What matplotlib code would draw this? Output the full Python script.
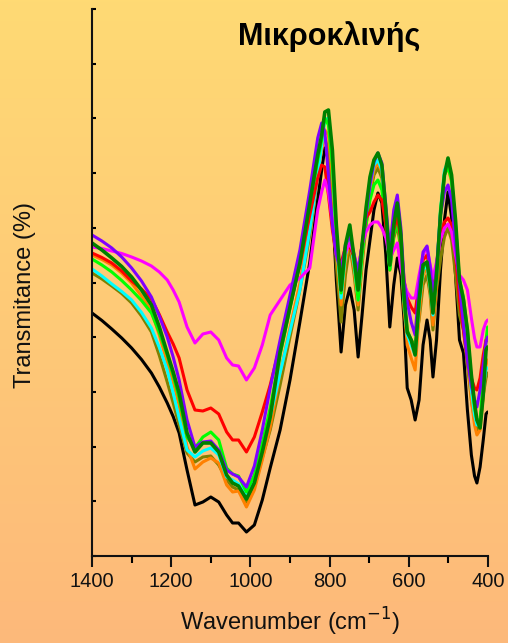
import numpy as np
import matplotlib
matplotlib.use("Agg")
import matplotlib.pyplot as plt
from matplotlib.colors import LinearSegmentedColormap
from matplotlib.ticker import FixedLocator

# Wavenumber sampling (cm^-1)
wavenumber = [1400, 1375, 1350, 1325, 1300, 1275, 1250, 1230, 1210, 1195, 1180, 1160, 1140,
              1120, 1100, 1080, 1060, 1045, 1030,
              1010, 990, 970, 950, 925, 900, 875, 850, 830,
              820, 812, 803, 793, 783, 771, 760, 749, 738, 728,
              718, 708, 698, 688, 678, 668, 658, 648, 638, 629,
              620, 612, 604, 594, 584, 574, 564, 554, 546, 539,
              530, 520, 510, 501, 492, 482, 472, 462, 452, 442,
              434, 428, 420, 412, 405, 401]

# Transmittance spectra (%)
t_black = [48.6, 47.1, 45.4, 43.6, 41.6, 39.3, 36.6, 33.8, 30.6, 27.9, 24.6, 17.2, 10.2,
           10.8, 11.8, 10.8, 8.2, 6.6, 6.6,
           4.8, 6.2, 11.2, 17.6, 25.2, 35.2, 46.8, 58.8, 71.2,
           77.2, 81.6, 79.2, 70.2, 55.2, 40.8, 50.2, 53.6, 49.2, 39.8,
           48.2, 57.2, 63.2, 69.2, 72.6, 70.6, 60.2, 45.8, 54.2, 59.6,
           56.2, 47.2, 33.6, 31.2, 27.2, 31.2, 42.2, 47.2, 43.2, 35.8,
           43.2, 57.2, 67.2, 72.8, 67.8, 56.2, 43.2, 40.6, 29.2, 20.2,
           16.0, 14.6, 17.8, 23.2, 28.4, 28.8]
t_purple = [64.2, 63.0, 61.6, 59.8, 57.6, 55.0, 51.8, 48.0, 43.8, 39.8, 35.2, 27.2, 21.8,
            22.8, 23.0, 21.2, 17.2, 16.4, 15.8,
            13.8, 18.0, 25.2, 33.6, 43.2, 52.2, 61.2, 73.2, 83.6,
            86.6, 84.8, 76.2, 66.2, 60.2, 56.8, 62.2, 64.2, 60.2, 56.8,
            62.2, 68.2, 74.2, 78.8, 80.6, 78.6, 70.2, 61.2, 69.2, 72.2,
            65.6, 55.2, 50.8, 46.8, 44.2, 54.2, 60.8, 62.0, 57.8, 51.8,
            57.6, 68.2, 72.8, 74.2, 71.2, 62.2, 54.2, 46.2, 39.2, 34.0,
            31.2, 29.8, 33.2, 38.2, 42.8, 43.8]
t_darkgreen = [62.6, 61.2, 59.6, 57.9, 55.8, 53.2, 50.2, 45.8, 40.6, 36.8, 32.6, 24.6, 20.8,
               22.6, 22.6, 20.8, 16.2, 14.6, 14.0,
               11.4, 14.6, 20.8, 27.8, 40.8, 49.8, 58.6, 70.6, 80.2,
               84.2, 88.8, 89.2, 81.2, 66.2, 53.2, 62.2, 66.2, 59.6, 53.2,
               62.2, 69.6, 75.8, 79.2, 80.6, 78.2, 69.2, 58.2, 66.2, 70.6,
               64.2, 52.2, 44.8, 43.2, 40.2, 51.2, 58.2, 58.8, 54.6, 48.6,
               56.2, 68.2, 76.2, 79.6, 76.2, 67.2, 55.2, 51.2, 45.2, 36.2,
               30.6, 27.2, 25.6, 32.2, 41.2, 41.8]
t_lime = [59.4, 58.2, 56.8, 55.1, 53.2, 51.1, 48.6, 44.7, 40.2, 36.1, 31.6, 23.8, 21.6,
          23.8, 24.8, 23.2, 17.6, 16.4, 16.0,
          12.8, 16.2, 22.6, 29.6, 40.2, 49.6, 58.8, 70.2, 79.2,
          83.2, 87.6, 86.2, 78.2, 64.2, 52.6, 61.2, 64.8, 58.8, 51.2,
          60.2, 66.2, 71.2, 74.2, 75.2, 73.2, 66.2, 57.2, 64.2, 66.8,
          62.2, 51.2, 45.2, 43.2, 40.8, 51.2, 57.6, 58.8, 54.2, 48.8,
          56.2, 69.2, 76.2, 77.8, 75.2, 66.2, 55.2, 51.8, 45.2, 35.2,
          29.6, 27.2, 27.2, 35.2, 43.2, 45.8]
t_cyan = [57.4, 56.0, 54.4, 52.9, 51.2, 48.7, 45.6, 41.7, 37.2, 32.6, 27.6, 21.2, 19.8,
          21.0, 21.6, 20.2, 15.8, 15.2, 14.4,
          12.2, 15.6, 21.2, 27.8, 36.6, 45.0, 53.2, 65.2, 76.2,
          82.2, 87.2, 87.6, 79.2, 63.2, 51.6, 60.2, 63.6, 58.2, 51.2,
          60.2, 68.2, 74.2, 78.2, 79.2, 77.2, 68.2, 57.6, 65.6, 69.2,
          63.2, 51.2, 44.2, 42.2, 40.2, 50.2, 57.2, 58.2, 53.6, 48.2,
          56.2, 69.2, 77.2, 78.8, 75.6, 66.2, 54.2, 50.2, 42.2, 33.2,
          28.2, 26.2, 26.2, 33.2, 37.6, 37.6]
t_orange = [60.2, 59.3, 58.2, 56.6, 54.6, 52.0, 49.0, 44.2, 38.8, 34.8, 30.2, 21.8, 17.4,
            18.8, 19.6, 18.6, 14.2, 12.8, 13.0,
            9.8, 13.2, 19.2, 25.8, 36.6, 45.6, 54.6, 66.2, 76.8,
            81.2, 85.2, 84.2, 76.2, 61.2, 50.2, 58.8, 63.2, 57.2, 50.2,
            59.2, 67.2, 73.2, 77.2, 78.6, 76.8, 68.8, 58.8, 66.2, 70.2,
            63.2, 50.2, 42.2, 39.6, 37.2, 48.2, 56.2, 57.6, 53.2, 46.2,
            54.2, 68.2, 76.2, 77.8, 74.8, 65.2, 53.2, 48.2, 40.2, 31.2,
            26.2, 24.2, 25.2, 32.2, 38.2, 39.2]
t_olive = [56.6, 55.4, 54.0, 52.5, 50.6, 48.0, 44.8, 40.1, 34.8, 30.6, 26.2, 20.6, 18.8,
           19.8, 20.0, 18.2, 15.2, 13.8, 13.2,
           10.8, 13.8, 19.6, 25.2, 34.2, 43.8, 53.2, 64.2, 76.2,
           82.8, 83.6, 81.2, 72.2, 58.2, 46.8, 56.2, 62.2, 56.2, 49.2,
           58.2, 66.2, 72.2, 76.2, 77.6, 75.6, 67.2, 57.2, 63.6, 66.2,
           61.2, 49.2, 44.2, 43.2, 42.2, 47.2, 54.2, 56.2, 52.2, 45.2,
           53.2, 59.2, 63.8, 65.6, 63.2, 56.2, 48.2, 45.2, 38.2, 31.2,
           27.2, 25.2, 26.2, 32.2, 35.6, 36.6]
t_red = [60.6, 59.7, 58.6, 57.0, 55.0, 53.4, 51.4, 48.3, 44.8, 42.4, 39.6, 33.2, 29.2,
         29.0, 29.6, 28.4, 24.8, 23.2, 23.2,
         20.8, 23.8, 28.8, 34.2, 42.2, 50.2, 58.2, 68.2, 75.6,
         78.2, 77.8, 72.2, 65.2, 60.2, 58.6, 61.8, 61.8, 59.8, 56.8,
         62.2, 67.6, 68.8, 70.8, 72.2, 71.2, 66.2, 59.6, 65.2, 68.0,
         63.2, 55.2, 51.6, 49.8, 48.6, 54.8, 59.2, 60.2, 56.8, 52.2,
         58.2, 64.2, 66.8, 67.6, 66.2, 60.2, 51.2, 45.2, 39.2, 35.6,
         33.6, 33.2, 35.6, 40.2, 43.2, 43.2]
t_magenta = [61.8, 61.5, 61.0, 60.5, 59.8, 59.0, 58.0, 56.8, 55.2, 53.2, 50.8, 45.8, 42.6,
             44.4, 44.8, 43.2, 39.6, 38.2, 38.0,
             35.2, 37.6, 42.2, 48.2, 51.2, 54.2, 55.6, 57.6, 69.2,
             72.8, 75.2, 72.8, 66.8, 60.2, 57.8, 60.8, 62.6, 60.2, 57.2,
             62.2, 64.8, 66.2, 66.8, 66.8, 65.6, 63.6, 59.6, 61.2, 62.6,
             57.6, 54.6, 52.8, 51.6, 51.6, 56.2, 60.2, 61.8, 58.2, 55.6,
             58.8, 63.2, 65.6, 66.4, 64.8, 60.2, 56.2, 55.2, 53.2, 47.6,
             43.6, 41.8, 41.8, 45.2, 46.8, 47.2]

# Drawing order: first entries end up underneath
spectra = [
    (t_black, "#000000", 2.2),
    (t_olive, "#808000", 2.2),
    (t_orange, "#FF8000", 2.2),
    (t_cyan, "#00FFFF", 2.2),
    (t_lime, "#00FF00", 2.2),
    (t_red, "#FF0000", 2.2),
    (t_magenta, "#FF00FF", 2.2),
    (t_purple, "#8000FF", 2.2),
    (t_darkgreen, "#008000", 2.6),
]

W, H = 508, 643
fig = plt.figure(figsize=(W / 100, H / 100), dpi=100)

# Vertical yellow-to-peach background
bg = fig.add_axes([0, 0, 1, 1], zorder=-10)
bg_cmap = LinearSegmentedColormap.from_list(
    "bg", [(1.0, 0.855, 0.455), (0.992, 0.725, 0.48)])
bg.imshow(np.linspace(0, 1, 256).reshape(-1, 1), aspect="auto", cmap=bg_cmap,
          extent=[0, 1, 0, 1], origin="upper")
bg.set_axis_off()

ax = fig.add_axes([92 / W, 1 - 556 / H, 396 / W, 547 / H])
ax.patch.set_alpha(0)

for values, color, lw in spectra:
    ax.plot(wavenumber, values, color=color, lw=lw, solid_joinstyle="round",
            solid_capstyle="round")

ax.set_xlim(1400, 400)
ax.set_ylim(0, 109.4)

for side in ("top", "right"):
    ax.spines[side].set_visible(False)
for side in ("left", "bottom"):
    ax.spines[side].set_linewidth(1.5)
    ax.spines[side].set_color("#111111")

ax.xaxis.set_major_locator(FixedLocator([1400, 1200, 1000, 800, 600, 400]))
ax.xaxis.set_minor_locator(FixedLocator([1300, 1100, 900, 700, 500]))
ax.tick_params(axis="x", which="major", direction="out", length=8, width=1.5,
               pad=3.5, labelsize=14.5, colors="#111111")
ax.tick_params(axis="x", which="minor", direction="out", length=5, width=1.5)
for lab in ax.get_xticklabels():
    lab.set_family("Liberation Sans")

ax.yaxis.set_major_locator(FixedLocator(np.linspace(0, 109.4, 11)))
ax.tick_params(axis="y", which="major", direction="in", length=3, width=1.5,
               labelleft=False)

fig.text(290 / W, 1 - 622 / H, "Wavenumber (cm$^{-1}$)", ha="center", va="center",
         fontsize=17, family="Liberation Sans", color="#111111")
fig.text(25 / W, 1 - 295 / H, "Transmitance (%)", ha="center", va="center",
         rotation=90, fontsize=17, family="Liberation Sans", color="#111111")
fig.text(329 / W, 1 - 45 / H, "Μικροκλινής", ha="center", va="baseline",
         fontsize=22, fontweight="bold", family="Liberation Sans", color="#000000")

fig.savefig("out.png", dpi=100)
